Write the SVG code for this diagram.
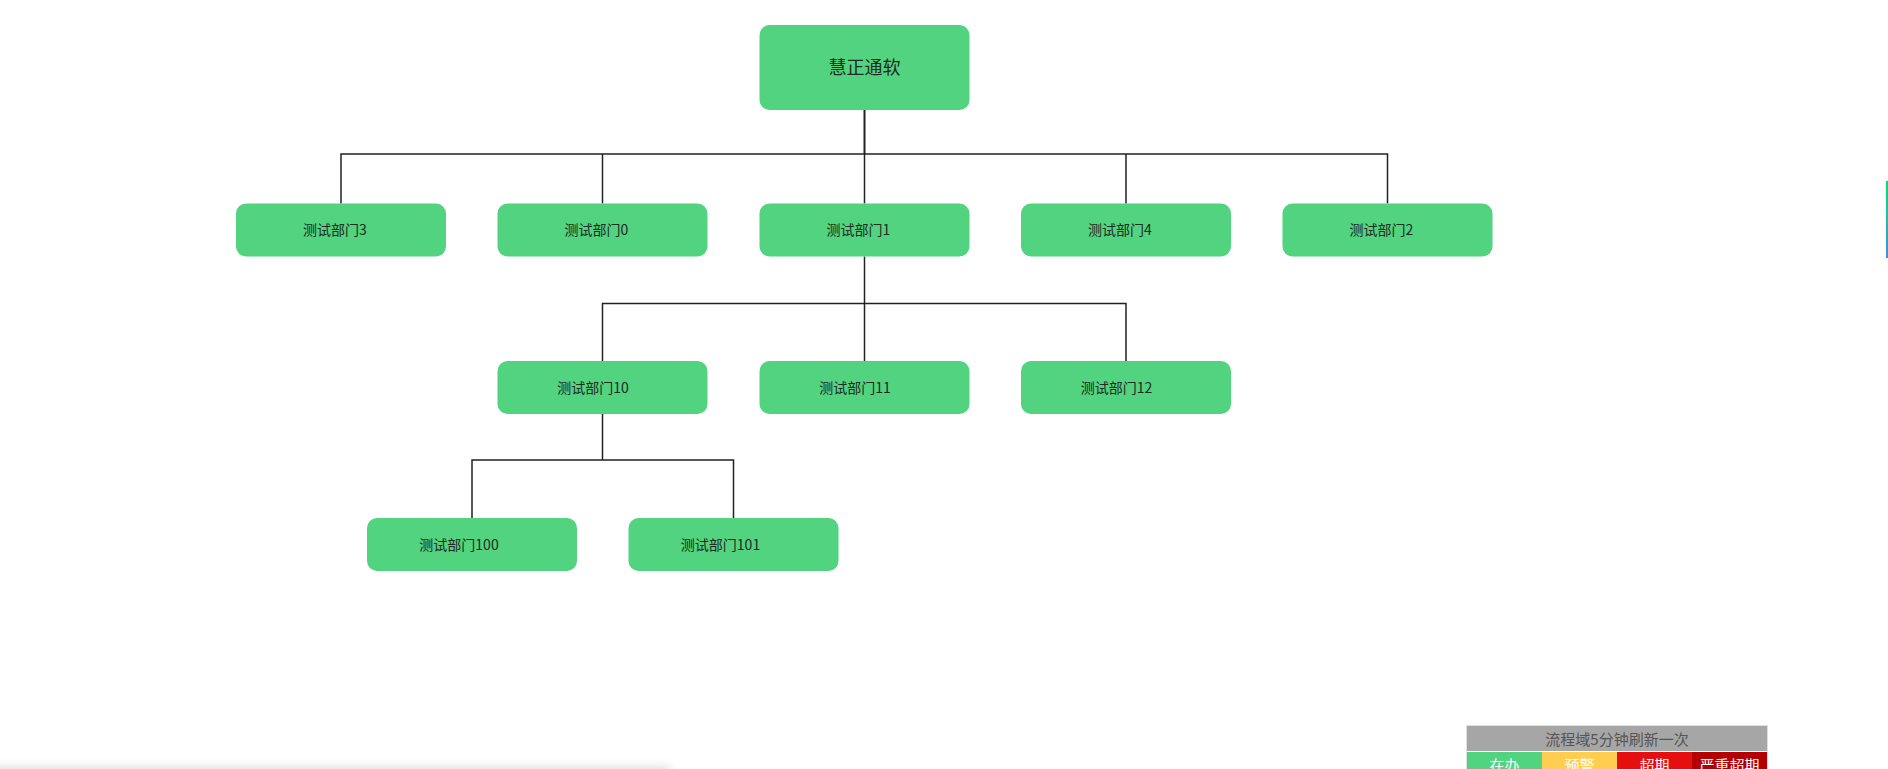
<svg xmlns="http://www.w3.org/2000/svg" width="1888" height="769" viewBox="0 0 1888 769">
<defs>
<style>
.node rect{fill:#51d37f;}
.node text{font-family:"Noto Sans CJK SC","Microsoft YaHei",sans-serif;font-size:14px;fill:#1f2a22;text-anchor:middle;}
#root text{font-size:18px;}
.conn path{fill:none;stroke:#222;stroke-width:1.5;}
.lg{font-family:"Noto Sans CJK SC",sans-serif;font-size:15px;text-anchor:middle;}
</style>
<linearGradient id="strip" x1="0" y1="0" x2="0" y2="1">
<stop offset="0" stop-color="#00e070"/>
<stop offset="0.45" stop-color="#20c0a0"/>
<stop offset="1" stop-color="#3a8ee6"/>
</linearGradient>
<filter id="blur" x="-5%" y="-200%" width="110%" height="500%">
<feGaussianBlur stdDeviation="4"/>
</filter>
</defs>
<rect width="1888" height="769" fill="#fff"/>
<rect x="-20" y="766" width="690" height="20" fill="#e2e2e2" filter="url(#blur)"/>
<rect x="1886" y="181" width="2" height="77" fill="url(#strip)"/>

<g class="conn" id="connectors">
<path d="M864.5 110 V154" style="stroke-width:2"/>
<path d="M341 203.5 V154 H1387.5 V203.5"/>
<path d="M602.5 154 V203.5 M864.5 154 V203.5 M1126 154 V203.5"/>
<path d="M864.5 256.5 V303.5"/>
<path d="M602.5 361 V303.5 H1126 V361 M864.5 303.5 V361"/>
<path d="M602.5 414 V460"/>
<path d="M472 518 V460 H733.5 V518"/>
</g>

<g class="node" id="root"><rect x="759.5" y="25" width="210" height="85" rx="10"/><text x="864.5" y="74">慧正通软</text></g>

<g class="node" id="n3"><rect x="236" y="203.5" width="210" height="53" rx="10"/><text x="335" y="235">测试部门3</text></g>
<g class="node" id="n0"><rect x="497.5" y="203.5" width="210" height="53" rx="10"/><text x="596.5" y="235">测试部门0</text></g>
<g class="node" id="n1"><rect x="759.5" y="203.5" width="210" height="53" rx="10"/><text x="858.5" y="235">测试部门1</text></g>
<g class="node" id="n4"><rect x="1021" y="203.5" width="210" height="53" rx="10"/><text x="1120" y="235">测试部门4</text></g>
<g class="node" id="n2"><rect x="1282.5" y="203.5" width="210" height="53" rx="10"/><text x="1381.5" y="235">测试部门2</text></g>

<g class="node" id="n10"><rect x="497.5" y="361" width="210" height="53" rx="10"/><text x="593" y="392.5">测试部门10</text></g>
<g class="node" id="n11"><rect x="759.5" y="361" width="210" height="53" rx="10"/><text x="855" y="392.5">测试部门11</text></g>
<g class="node" id="n12"><rect x="1021" y="361" width="210" height="53" rx="10"/><text x="1116.5" y="392.5">测试部门12</text></g>

<g class="node" id="n100"><rect x="367" y="518" width="210" height="53" rx="10"/><text x="459" y="549.5">测试部门100</text></g>
<g class="node" id="n101"><rect x="628.5" y="518" width="210" height="53" rx="10"/><text x="720.5" y="549.5">测试部门101</text></g>

<g id="legend">
<rect x="1466.5" y="725.5" width="301" height="45" fill="none" stroke="#e0e0e0"/>
<rect x="1467" y="726" width="300" height="25" fill="#a6a6a6"/>
<text class="lg" x="1617" y="744.5" fill="#555">流程域5分钟刷新一次</text>
<rect x="1467" y="752" width="75" height="20" fill="#51d37f"/>
<rect x="1542" y="752" width="75" height="20" fill="#ffcd4f"/>
<rect x="1617" y="752" width="75" height="20" fill="#e60f0f"/>
<rect x="1692" y="752" width="75" height="20" fill="#b30000"/>
<text class="lg" x="1504.5" y="771" fill="#fff">在办</text>
<text class="lg" x="1579.5" y="771" fill="#fff">预警</text>
<text class="lg" x="1654.5" y="771" fill="#fff">超期</text>
<text class="lg" x="1729.5" y="771" fill="#fff">严重超期</text>
</g>
</svg>
